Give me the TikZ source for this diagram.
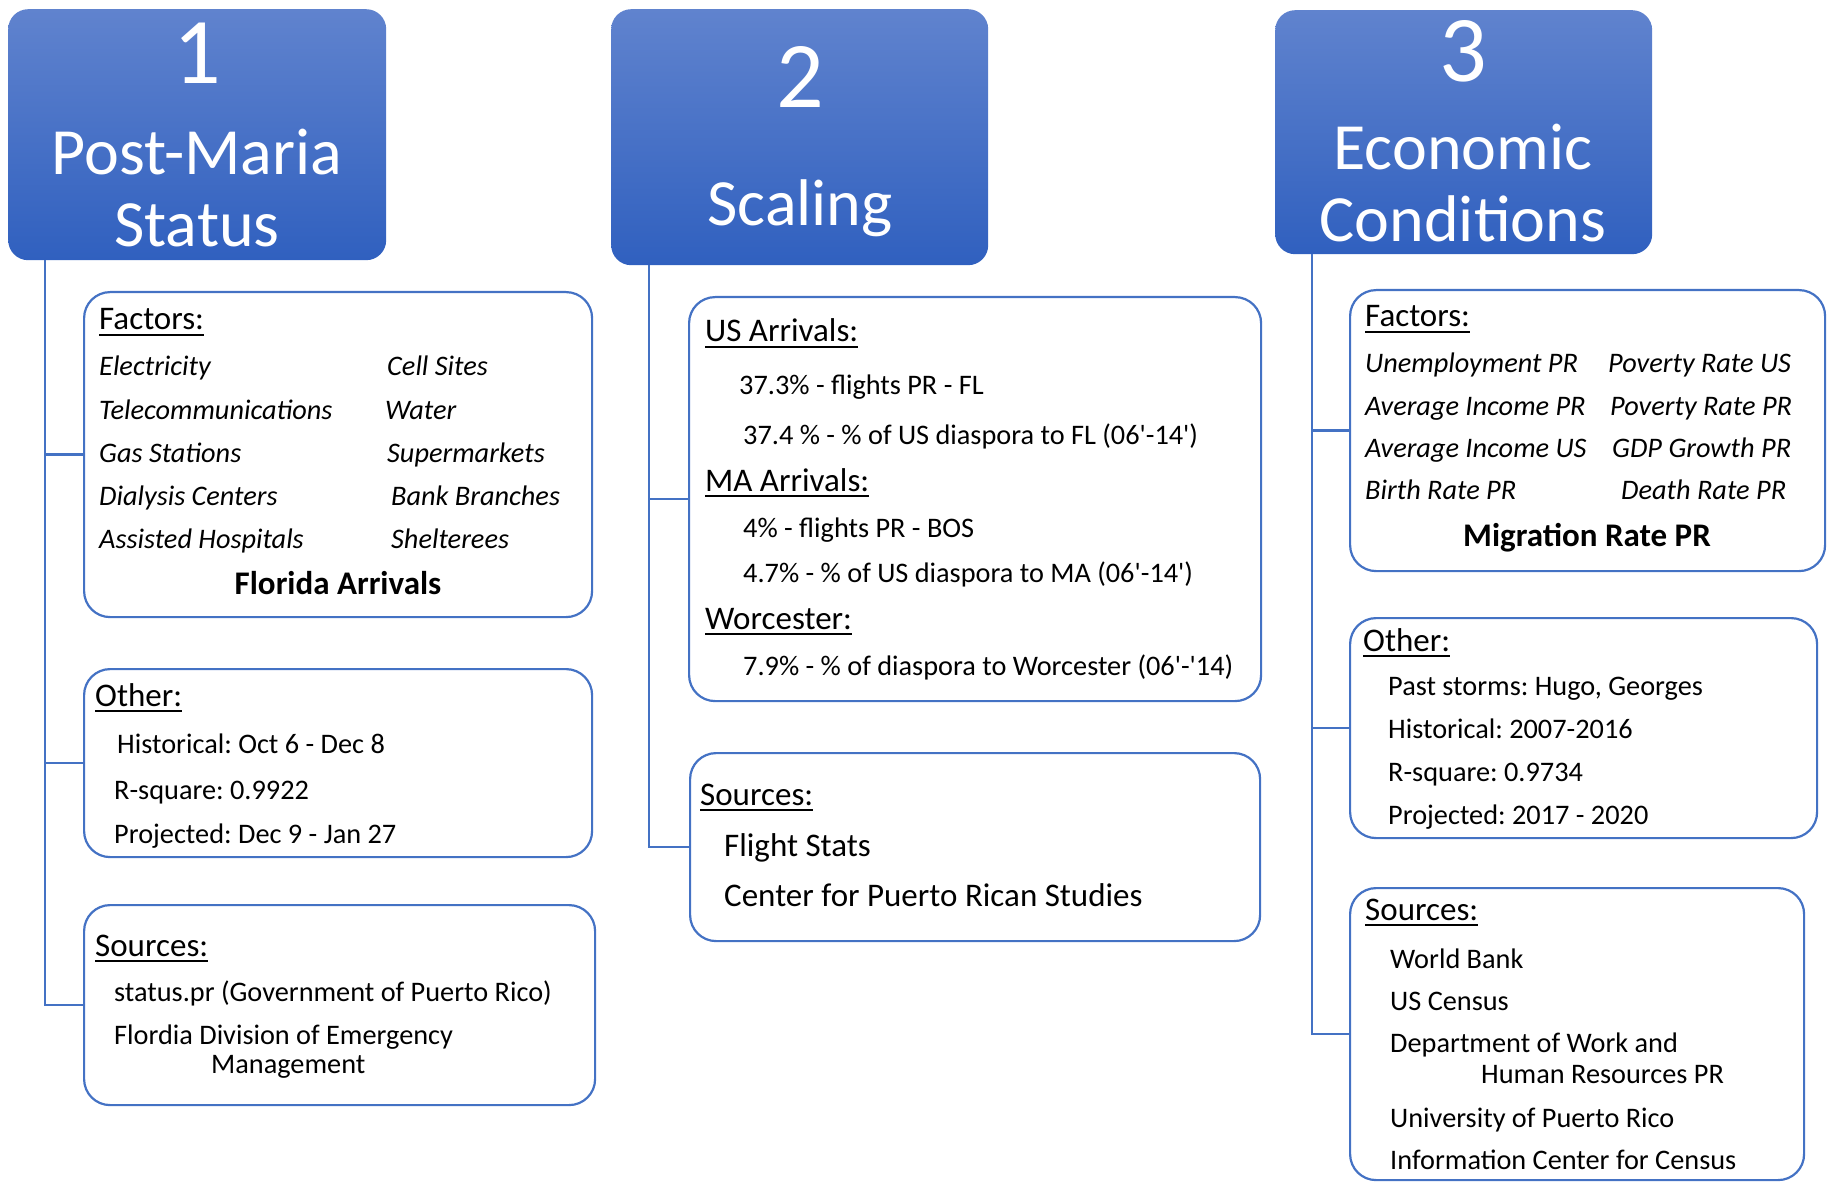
\documentclass[tikz,border=0pt]{standalone}
\usepackage{fontspec}
\setmainfont{Carlito}
\frenchspacing
\definecolor{headtop}{RGB}{96,131,206}
\definecolor{headbot}{RGB}{48,96,191}
\definecolor{linkblue}{RGB}{68,114,196}
\newsavebox\hdbox
\newcommand\headul[1]{\sbox\hdbox{#1}\rlap{\rule[-6pt]{\wd\hdbox}{2pt}}\usebox\hdbox}
\newcommand\sq{\textquotesingle}
\tikzset{
    headbox/.style    = {anchor=north west, inner sep=0pt, rounded corners=20pt,
                         top color=headtop, bottom color=headbot},
    infobox/.style    = {anchor=north west, inner sep=0pt, draw=linkblue,
                         line width=2.2pt, rounded corners=26pt},
    link/.style       = {draw=linkblue, line width=2.6pt},
    numtext/.style    = {anchor=base, inner sep=0pt, text=white, font=\fontsize{94}{100}\selectfont},
    titletext/.style  = {anchor=base, inner sep=0pt, text=white, font=\fontsize{66}{72}\selectfont},
    headtext/.style   = {anchor=base west, inner sep=0pt, font=\fontsize{33}{36}\selectfont},
    itemtext/.style   = {anchor=base west, inner sep=0pt, font=\fontsize{28.3}{30}\selectfont},
    bigitem/.style    = {itemtext, font=\fontsize{33}{35}\selectfont},
    factortext/.style = {itemtext, font=\fontsize{28.3}{30}\selectfont\itshape},
    keytext/.style    = {anchor=base, inner sep=0pt, font=\fontsize{33}{35}\selectfont\bfseries}
}

\begin{document}
\begin{tikzpicture}[x=1pt, y=-1pt]
    \useasboundingbox (0,0) rectangle (1832,1182);

    % headers
    \node[headbox, minimum width=378, minimum height=251] (h1) at (8,9) {};
    \node[headbox, minimum width=377, minimum height=256] (h2) at (611,9) {};
    \node[headbox, minimum width=377, minimum height=244] (h3) at (1275,10) {};

    \node[numtext]   (h1-num) at (197,84)  {1};
    \node[titletext] (h1-top) at (197,175) {Post-Maria};
    \node[titletext] (h1-bot) at (197,247) {Status};
    \node[numtext]   (h2-num) at (800,108) {2};
    \node[titletext] (h2-top) at (800,226) {Scaling};
    \node[numtext]   (h3-num) at (1463,82)  {3};
    \node[titletext] (h3-top) at (1463,170) {Economic};
    \node[titletext] (h3-bot) at (1463,242) {Conditions};

    % boxes
    \node[infobox, minimum width=508, minimum height=325] (f1) at (83,291) {};
    \node[infobox, minimum width=508, minimum height=188] (o1) at (83,668) {};
    \node[infobox, minimum width=511, minimum height=200] (s1) at (83,904) {};
    \node[infobox, minimum width=572, minimum height=404] (u2) at (688,296) {};
    \node[infobox, minimum width=570, minimum height=188] (s2) at (689,752) {};
    \node[infobox, minimum width=475, minimum height=281] (f3) at (1349,289) {};
    \node[infobox, minimum width=467, minimum height=220] (o3) at (1349,617) {};
    \node[infobox, minimum width=454, minimum height=292] (s3) at (1349,887) {};

    % trunks and branches
    \coordinate (t1) at ([xshift=37]h1.south west);
    \coordinate (t2) at ([xshift=38]h2.south west);
    \coordinate (t3) at ([xshift=37]h3.south west);
    \draw[link] (t1) |- (s1.west);
    \draw[link] (f1.west -| t1) -- (f1.west);
    \draw[link] (o1.west -| t1) -- (o1.west);
    \draw[link] (t2) |- (s2.west);
    \draw[link] (u2.west -| t2) -- (u2.west);
    \draw[link] (t3) |- (s3.west);
    \draw[link] (f3.west -| t3) -- (f3.west);
    \draw[link] (o3.west -| t3) -- (o3.west);

    % column 1
    \node[headtext] (f1-head) at (99,330) {\headul{Factors:}};
    \foreach \t [count=\i] in {Electricity, Telecommunications, Gas Stations, Dialysis Centers, Assisted Hospitals}
        \node[factortext] (f1-a\i) at (99, 333+43*\i) {\t};
    \foreach \x/\t [count=\i] in {387/Cell Sites, 385/Water, 387/Supermarkets, 391/Bank Branches, 391/Shelterees}
        \node[factortext] (f1-b\i) at (\x, 333+43*\i) {\t};
    \node[keytext] (f1-key) at (338,594) {Florida Arrivals};

    \node[headtext] (o1-head) at (95,706) {\headul{Other:}};
    \node[itemtext] (o1-1) at (117,753) {Historical: Oct 6 - Dec 8};
    \node[itemtext] (o1-2) at (114,799) {R-square: 0.9922};
    \node[itemtext] (o1-3) at (114,843) {Projected: Dec 9 - Jan 27};

    \node[headtext] (s1-head) at (95,956) {\headul{Sources:}};
    \node[itemtext] (s1-1) at (114,1001) {status.pr (Government of Puerto Rico)};
    \node[itemtext] (s1-2) at (114,1044) {Flordia Division of Emergency};
    \node[itemtext] (s1-3) at (211,1073) {Management};

    % column 2
    \node[headtext] (u2-us) at (705,342) {\headul{US Arrivals:}};
    \node[itemtext] (u2-1) at (739,395) {37.3\% - flights PR - FL};
    \node[itemtext] (u2-2) at (743,444) {37.4 \% - \% of US diaspora to FL (06\sq-14\sq)};
    \node[headtext] (u2-ma) at (705,491) {\headul{MA Arrivals:}};
    \node[itemtext] (u2-3) at (743,537) {4\% - flights PR - BOS};
    \node[itemtext] (u2-4) at (743,582) {4.7\% - \% of US diaspora to MA (06\sq-14\sq)};
    \node[headtext] (u2-wo) at (705,629) {\headul{Worcester:}};
    \node[itemtext] (u2-5) at (743,675) {7.9\% - \% of diaspora to Worcester (06\sq-\sq14)};

    \node[headtext] (s2-head) at (700,805) {\headul{Sources:}};
    \node[bigitem] (s2-1) at (724,856) {Flight Stats};
    \node[bigitem] (s2-2) at (724,906) {Center for Puerto Rican Studies};

    % column 3
    \node[headtext] (f3-head) at (1365,327) {\headul{Factors:}};
    \foreach \t [count=\i] in {Unemployment PR, Average Income PR, Average Income US, Birth Rate PR}
        \node[factortext] (f3-a\i) at (1365, 331+42*\i) {\t};
    \foreach \x/\t [count=\i] in {1608/Poverty Rate US, 1610/Poverty Rate PR, 1612/GDP Growth PR, 1621/Death Rate PR}
        \node[factortext] (f3-b\i) at (\x, 331+42*\i) {\t};
    \node[keytext] (f3-key) at (1587,546) {Migration Rate PR};

    \node[headtext] (o3-head) at (1363,651) {\headul{Other:}};
    \foreach \t [count=\i] in {{Past storms: Hugo, Georges}, Historical: 2007-2016, R-square: 0.9734, Projected: 2017 - 2020}
        \node[itemtext] (o3-\i) at (1388, 652+43*\i) {\t};

    \node[headtext] (s3-head) at (1365,920) {\headul{Sources:}};
    \node[itemtext] (s3-1) at (1390,968)  {World Bank};
    \node[itemtext] (s3-2) at (1390,1010) {US Census};
    \node[itemtext] (s3-3) at (1390,1052) {Department of Work and};
    \node[itemtext] (s3-4) at (1481,1083) {Human Resources PR};
    \node[itemtext] (s3-5) at (1390,1127) {University of Puerto Rico};
    \node[itemtext] (s3-6) at (1390,1169) {Information Center for Census};
\end{tikzpicture}
\end{document}
